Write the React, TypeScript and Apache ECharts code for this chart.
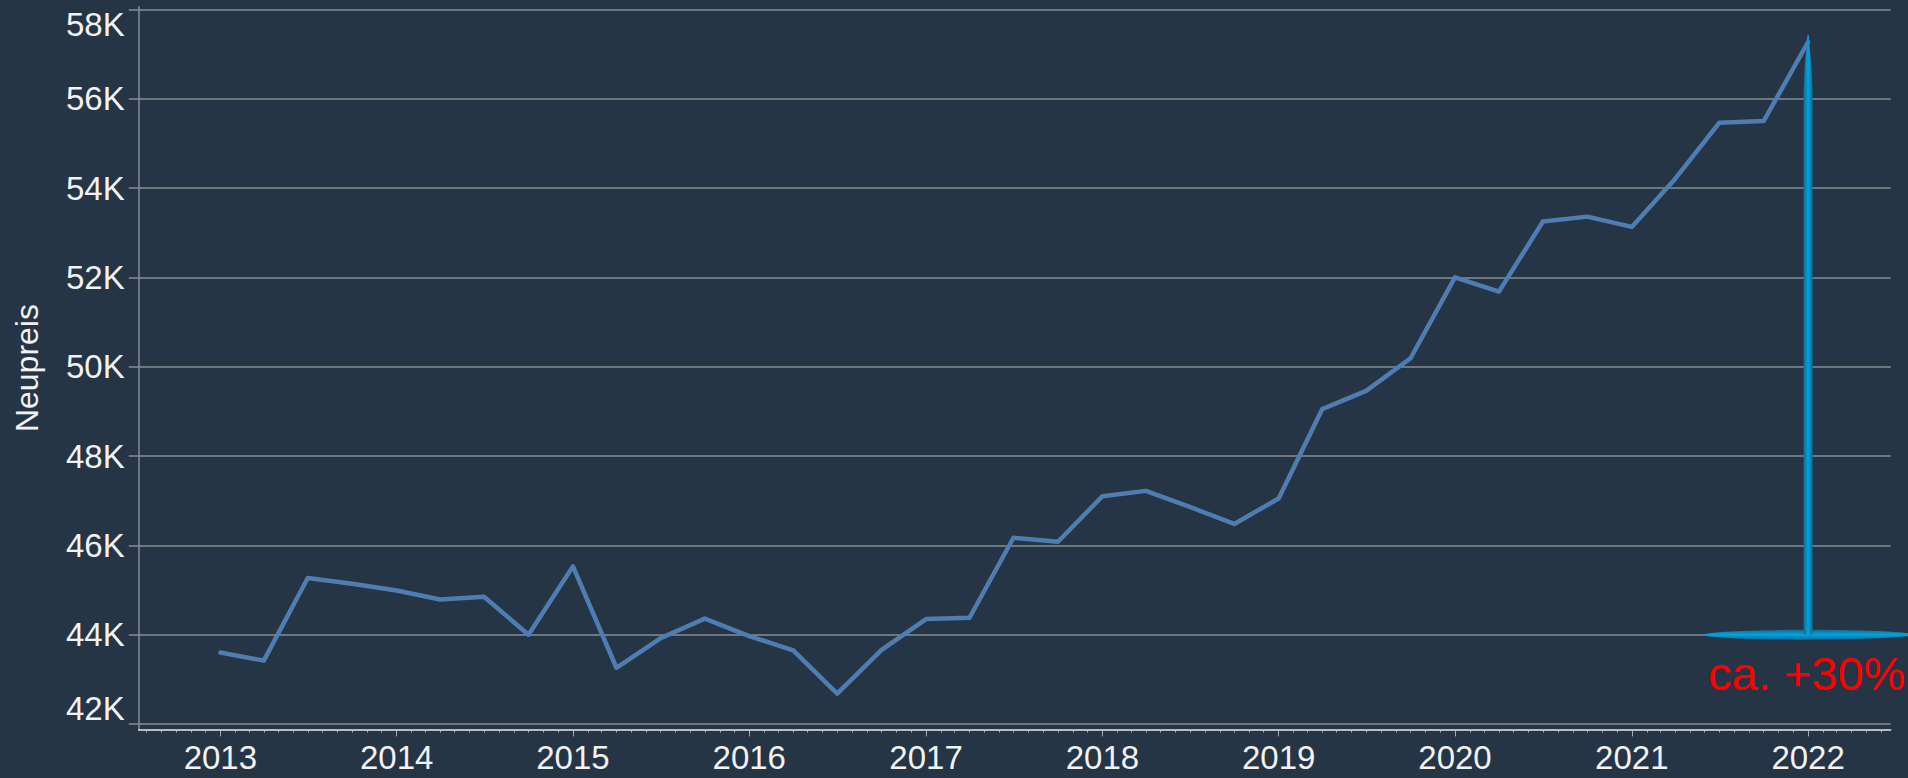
import React, { useEffect, useRef } from "react";
import * as echarts from "echarts";

// ---------- data ----------
const quarters = [
  "2013-01-01", "2013-04-01", "2013-07-01", "2013-10-01",
  "2014-01-01", "2014-04-01", "2014-07-01", "2014-10-01",
  "2015-01-01", "2015-04-01", "2015-07-01", "2015-10-01",
  "2016-01-01", "2016-04-01", "2016-07-01", "2016-10-01",
  "2017-01-01", "2017-04-01", "2017-07-01", "2017-10-01",
  "2018-01-01", "2018-04-01", "2018-07-01", "2018-10-01",
  "2019-01-01", "2019-04-01", "2019-07-01", "2019-10-01",
  "2020-01-01", "2020-04-01", "2020-07-01", "2020-10-01",
  "2021-01-01", "2021-04-01", "2021-07-01", "2021-10-01",
  "2022-01-01",
];

const neupreis = [
  43600, 43420, 45270, 45140,
  44990, 44790, 44850, 44000,
  45530, 43260, 43920, 44360,
  43970, 43650, 42680, 43660,
  44350, 44380, 46170, 46080,
  47100, 47220, 46860, 46480,
  47050, 49050, 49460, 50190,
  52000, 51680, 53250, 53360,
  53130, 54210, 55460, 55500,
  57270,
];

const yearTicks = [
  "2013-01-01", "2014-01-01", "2015-01-01", "2016-01-01", "2017-01-01",
  "2018-01-01", "2019-01-01", "2020-01-01", "2021-01-01", "2022-01-01",
];

const yTicks = [42000, 44000, 46000, 48000, 50000, 52000, 54000, 56000, 58000];

const xRange = ["2012-07-16", "2022-06-21"];
const yRange = [41880, 58060];

const annotationDate = "2022-01-01";
const annotationBase = 44000;
const annotationTop = 57420;
const annotationText = "ca. +30%";

// ---------- helpers ----------
const ts = (s: string) => Date.parse(s + "T00:00:00Z");

const monthTicks: number[] = [];
{
  const start = new Date(ts(xRange[0]));
  let y = start.getUTCFullYear();
  let m = start.getUTCMonth() + 1;
  const end = ts(xRange[1]);
  while (true) {
    const t = Date.UTC(y, m, 1);
    if (t > end) break;
    monthTicks.push(t);
    m++;
    if (m > 11) { m = 0; y++; }
  }
}

const FONT = "'Liberation Sans', Arial, sans-serif";
const TXT = "#f2f2f2";
const GRID = "#8a8d90";

export default function App() {
  const ref = useRef<HTMLDivElement>(null);

  useEffect(() => {
    if (!ref.current) return;
    const chart = echarts.init(ref.current, null, { renderer: "svg" });

    const lineData = quarters.map((q, i) => [ts(q), neupreis[i]]);
    const yearTs = yearTicks.map(ts);

    const labelStyle = { fontSize: 33, color: TXT, fontFamily: FONT };

    chart.setOption({
      animation: false,
      backgroundColor: "#253545",
      textStyle: { fontFamily: FONT },
      grid: {
        left: 138.7,
        right: 17.3,
        top: 6.7,
        bottom: 48.6,
        containLabel: false,
        outerBoundsMode: "none",
      },
      xAxis: [
        {
          type: "value",
          min: ts(xRange[0]),
          max: ts(xRange[1]),
          position: "bottom",
          axisLine: { show: true, lineStyle: { color: "#e8e8e8", width: 1.5 } },
          axisTick: {
            show: true,
            customValues: yearTs,
            length: 7,
            lineStyle: { color: "#a8a8a8", width: 1 },
          },
          axisLabel: {
            show: true,
            customValues: yearTs,
            formatter: (v: number) => String(new Date(v).getUTCFullYear()),
            fontSize: 33,
            color: TXT,
            fontFamily: FONT,
            margin: 12,
          },
          splitLine: { show: false },
        },
        {
          type: "value",
          min: ts(xRange[0]),
          max: ts(xRange[1]),
          position: "bottom",
          axisLine: { show: false },
          axisTick: {
            show: true,
            customValues: monthTicks,
            length: 3,
            lineStyle: { color: "#b8b8b8", width: 1 },
          },
          axisLabel: { show: false },
          splitLine: { show: false },
        },
      ],
      yAxis: {
        type: "value",
        min: yRange[0],
        max: yRange[1],
        name: "Neupreis",
        nameLocation: "middle",
        nameGap: 96,
        nameTextStyle: { fontSize: 32, color: TXT, fontFamily: FONT },
        axisLine: { show: true, lineStyle: { color: GRID, width: 1.5 } },
        axisTick: {
          show: true,
          customValues: yTicks,
          length: 10,
          lineStyle: { color: GRID, width: 1.5 },
        },
        axisLabel: {
          show: true,
          customValues: yTicks,
          margin: 14,
          ...labelStyle,
          formatter: (v: number) => {
            const t = Math.round(v / 1000) + "K";
            if (v === yTicks[yTicks.length - 1]) return "{top|" + t + "}";
            if (v === yTicks[0]) return "{bot|" + t + "}";
            return "{n|" + t + "}";
          },
          rich: {
            n: { ...labelStyle },
            top: { ...labelStyle, padding: [30, 0, 0, 0] },
            bot: { ...labelStyle, padding: [0, 0, 32, 0] },
          },
        },
        splitLine: { show: true, lineStyle: { color: GRID, width: 1.5 } },
      },
      series: [
        {
          type: "line",
          name: "Neupreis",
          data: lineData,
          showSymbol: false,
          symbol: "none",
          lineStyle: { color: "#4f7db1", width: 4.5, join: "round", cap: "round" },
          z: 3,
        },
        {
          type: "custom",
          data: [[ts(annotationDate), annotationBase, annotationTop]],
          clip: false,
          z: 4,
          renderItem: (params: any, api: any) => {
            const b = api.coord([api.value(0), api.value(1)]);
            const t = api.coord([api.value(0), api.value(2)]);
            const x = b[0];
            const by = b[1];
            const ty = t[1];
            const hw = 4.5;
            const needle = [
              [x - hw, by],
              [x + hw, by],
              [x + hw, ty + 55],
              [x + 3.2, ty + 28],
              [x + 1.6, ty + 12],
              [x + 0.8, ty],
              [x - 0.8, ty],
              [x - 1.6, ty + 12],
              [x - 3.2, ty + 28],
              [x - hw, ty + 55],
            ];
            return {
              type: "group",
              children: [
                {
                  type: "ellipse",
                  shape: { cx: x, cy: by, rx: 104, ry: 5 },
                  style: {
                    fill: {
                      type: "linear", x: 0, y: 0, x2: 0, y2: 1,
                      colorStops: [
                        { offset: 0, color: "#0a6f95" },
                        { offset: 0.5, color: "#08a2dc" },
                        { offset: 1, color: "#0a6f95" },
                      ],
                    },
                  },
                },
                {
                  type: "polygon",
                  shape: { points: needle },
                  style: {
                    fill: {
                      type: "linear", x: 0, y: 0, x2: 1, y2: 0,
                      colorStops: [
                        { offset: 0, color: "#0a6f95" },
                        { offset: 0.5, color: "#08a0da" },
                        { offset: 1, color: "#0a6f95" },
                      ],
                    },
                  },
                },
                {
                  type: "text",
                  style: {
                    text: annotationText,
                    x: x - 100,
                    y: by + 39,
                    align: "left",
                    verticalAlign: "middle",
                    fill: "#ff0000",
                    fontSize: 47,
                    fontFamily: FONT,
                  },
                },
              ],
            };
          },
        },
      ],
    });

    return () => chart.dispose();
  }, []);

  return (
    <div
      ref={ref}
      style={{ position: "fixed", left: 0, top: 0, width: 1908, height: 778 }}
    />
  );
}
